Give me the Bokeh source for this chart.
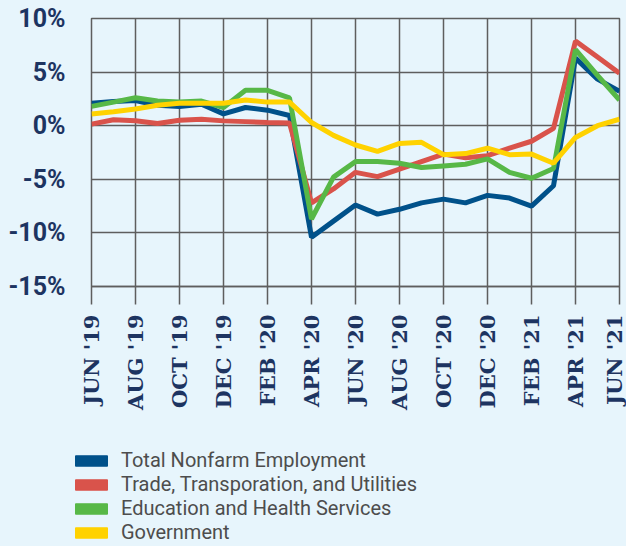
import math
from bokeh.plotting import figure
from bokeh.layouts import column
from bokeh.models import FixedTicker, PrintfTickFormatter, Legend, LegendItem, Range1d, ColumnDataSource
from bokeh.embed import file_html
from bokeh.resources import INLINE

months = list(range(25))
tick_positions = [0, 2, 4, 6, 8, 10, 12, 14, 16, 18, 20, 22, 24]
tick_labels = ["JUN '19", "AUG '19", "OCT '19", "DEC '19", "FEB '20", "APR '20", "JUN '20",
               "AUG '20", "OCT '20", "DEC '20", "FEB '21", "APR '21", "JUN '21"]
y_ticks = [-15, -10, -5, 0, 5, 10]

total_nonfarm = [2.1, 2.25, 2.35, 1.9, 1.8, 2.0, 1.1, 1.7, 1.45, 0.95, -10.4, -8.9, -7.4, -8.25,
                 -7.8, -7.2, -6.85, -7.2, -6.5, -6.75, -7.5, -5.6, 6.3, 4.35, 3.2]
trade = [0.15, 0.55, 0.47, 0.2, 0.5, 0.6, 0.45, 0.38, 0.3, 0.25, -7.2, -5.9, -4.35, -4.75,
         -4.05, -3.35, -2.65, -3.0, -2.8, -2.1, -1.45, -0.25, 7.9, 6.4, 4.9]
education = [1.8, 2.2, 2.6, 2.3, 2.2, 2.3, 1.7, 3.3, 3.3, 2.6, -8.7, -4.8, -3.35, -3.35,
             -3.5, -3.9, -3.75, -3.6, -3.1, -4.35, -4.9, -4.0, 7.1, 4.7, 2.4]
government = [1.1, 1.3, 1.55, 1.9, 2.1, 2.1, 2.1, 2.4, 2.2, 2.2, 0.3, -0.9, -1.8, -2.4,
              -1.65, -1.55, -2.7, -2.6, -2.1, -2.7, -2.65, -3.5, -1.1, 0.0, 0.6]

series_names = ["Total Nonfarm Employment", "Trade, Transporation, and Utilities",
                "Education and Health Services", "Government"]
series_values = [total_nonfarm, trade, education, government]
series_colors = ["#00518a", "#d9534b", "#57b847", "#ffd200"]

BG = "#e7f5fc"
GRID = "#5e5e5e"
NAVY = "#1d3461"

p = figure(width=626, height=440, output_backend="svg", toolbar_location=None,
           x_range=Range1d(0, 24), y_range=Range1d(-15, 10),
           min_border_left=91, min_border_top=18, min_border_right=7, min_border_bottom=154)
p.background_fill_color = BG
p.border_fill_color = BG
p.outline_line_color = GRID
p.outline_line_width = 1.5

# grids
p.xgrid.ticker = FixedTicker(ticks=tick_positions)
p.ygrid.ticker = FixedTicker(ticks=y_ticks)
for g in (p.xgrid, p.ygrid):
    g.grid_line_color = GRID
    g.grid_line_width = 1.5
    g.grid_line_alpha = 1.0

# x axis
xa = p.xaxis[0]
xa.ticker = FixedTicker(ticks=tick_positions)
xa.major_label_overrides = {t: l for t, l in zip(tick_positions, tick_labels)}
xa.major_label_orientation = math.pi / 2
xa.major_label_text_font = "DejaVu Serif"
xa.major_label_text_font_style = "bold"
xa.major_label_text_font_size = "21px"
xa.major_label_text_color = NAVY
xa.major_label_standoff = 10
xa.major_tick_out = 18
xa.major_tick_in = 0
xa.major_tick_line_color = GRID
xa.major_tick_line_width = 1.5
xa.minor_tick_line_color = None
xa.axis_line_color = GRID
xa.axis_line_width = 1.5

# y axis
ya = p.yaxis[0]
ya.ticker = FixedTicker(ticks=y_ticks)
ya.formatter = PrintfTickFormatter(format="%d%%")
ya.major_label_text_font = "Roboto"
ya.major_label_text_font_style = "bold"
ya.major_label_text_font_size = "25px"
ya.major_label_text_color = NAVY
ya.major_label_standoff = 26
ya.major_tick_out = 0
ya.major_tick_in = 0
ya.minor_tick_line_color = None
ya.axis_line_color = None

# lines
for vals, col in zip(series_values, series_colors):
    p.line(months, vals, line_color=col, line_width=5)

# legend panel (separate figure below the chart)
pl = figure(width=626, height=106, output_backend="svg", toolbar_location=None,
            x_range=Range1d(0, 1), y_range=Range1d(0, 1),
            x_axis_location=None, y_axis_location=None,
            min_border_left=71, min_border_top=8, min_border_right=0, min_border_bottom=0)
pl.background_fill_color = BG
pl.border_fill_color = BG
pl.outline_line_color = None
pl.xgrid.visible = False
pl.ygrid.visible = False
for fig in (p, pl):
    try:
        fig.frame_align = False
    except Exception:
        pass

items = []
for name, col in zip(series_names, series_colors):
    # swatch source placed outside the legend panel's visible range
    r = pl.quad(source=ColumnDataSource(dict(left=[5], right=[6], top=[6], bottom=[5])),
                left="left", right="right", top="top", bottom="bottom",
                fill_color=col, line_color=col)
    items.append(LegendItem(label=name, renderers=[r]))

legend = Legend(items=items, location="top_left", glyph_width=40, glyph_height=13,
                label_text_font="Roboto", label_text_font_size="20px",
                label_text_color="#4d4d4d", label_standoff=10, label_height=23,
                spacing=0, padding=0, margin=0, border_line_color=None,
                background_fill_alpha=0)
pl.add_layout(legend, "center")

layout = column(p, pl, spacing=0, styles={"background-color": BG})
open("out.html", "w").write(file_html(layout, INLINE))
